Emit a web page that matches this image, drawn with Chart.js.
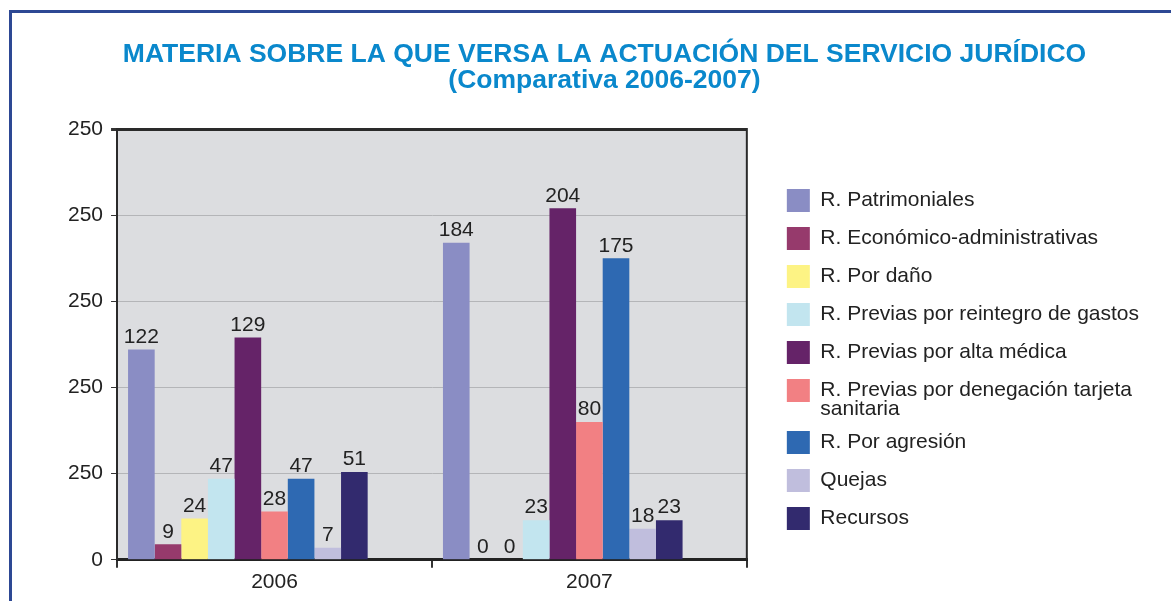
<!DOCTYPE html>
<html lang="es">
<head>
  <meta charset="UTF-8">
  <title>Materia sobre la que versa la actuación del Servicio Jurídico</title>
  <script src="https://cdn.jsdelivr.net/npm/chart.js"></script>
  <style>
    html, body { margin: 0; padding: 0; background: #fff; width: 1171px; height: 601px; overflow: hidden; }
    #frame { position: absolute; left: 9px; top: 10px; width: 1200px; height: 620px; border-top: 3px solid #2d4894; border-left: 3px solid #2d4894; }
    #wrap { position: absolute; left: 0; top: 0; width: 1171px; height: 601px; }
  </style>
</head>
<body>
  <div id="frame"></div>
  <div id="wrap"><canvas id="chart"></canvas></div>

  <script>
    const years = ['2006', '2007'];
    const series = [
      'R. Patrimoniales',
      'R. Económico-administrativas',
      'R. Por daño',
      'R. Previas por reintegro de gastos',
      'R. Previas por alta médica',
      ['R. Previas por denegación tarjeta', 'sanitaria'],
      'R. Por agresión',
      'Quejas',
      'Recursos'
    ];
    const colors = ['#8a8dc4', '#963a6c', '#fdf384', '#c2e5ef', '#652368', '#f28083', '#2e69b2', '#c0bedd', '#322a6e'];
    const values2006 = [122, 9, 24, 47, 129, 28, 47, 7, 51];
    const values2007 = [184, 0, 0, 23, 204, 80, 175, 18, 23];
    // the original axis shows "250" on every tick except 0
    const yTickLabels = ['0', '250', '250', '250', '250', '250'];
    const FONT = "'Liberation Sans', Arial, Helvetica, sans-serif";

    const datasets = series.map((name, i) => ({
      label: name,
      data: [values2006[i], values2007[i]],
      backgroundColor: colors[i],
      borderWidth: 0
    }));
    // two empty slots so the groups sit to the left, like the original
    for (let k = 0; k < 2; k++) datasets.push({ label: '', data: [null, null], backgroundColor: 'rgba(0,0,0,0)', spacer: true });

    const plotBg = {
      id: 'plotBg',
      beforeDraw(chart) {
        const a = chart.chartArea, ctx = chart.ctx;
        ctx.save();
        ctx.fillStyle = '#dcdde0';
        ctx.fillRect(a.left, a.top, a.right - a.left, a.bottom - a.top);
        ctx.restore();
      },
      afterDraw(chart) {
        const a = chart.chartArea, ctx = chart.ctx;
        ctx.save();
        ctx.strokeStyle = '#2a2a2a';
        ctx.lineWidth = 2;
        ctx.beginPath();
        ctx.moveTo(a.right, a.top - 1);
        ctx.lineTo(a.right, a.bottom);
        ctx.stroke();
        ctx.restore();
      }
    };

    const valueLabels = {
      id: 'valueLabels',
      afterDatasetsDraw(chart) {
        const ctx = chart.ctx;
        ctx.save();
        ctx.font = '21px ' + FONT;
        ctx.fillStyle = '#222';
        ctx.textAlign = 'center';
        ctx.textBaseline = 'bottom';
        chart.data.datasets.forEach((ds, i) => {
          if (ds.spacer) return;
          chart.getDatasetMeta(i).data.forEach((bar, j) => {
            ctx.fillText(String(ds.data[j]), bar.x, bar.y - 2);
          });
        });
        ctx.restore();
      }
    };

    new Chart(document.getElementById('chart'), {
      type: 'bar',
      data: { labels: years, datasets },
      options: {
        responsive: true,
        maintainAspectRatio: false,
        animation: false,
        barPercentage: 1,
        categoryPercentage: 0.93,
        layout: { padding: { left: 60, right: 22, top: 24, bottom: 4 } },
        plugins: {
          title: {
            display: true,
            text: ['MATERIA SOBRE LA QUE VERSA LA ACTUACIÓN DEL SERVICIO JURÍDICO', '(Comparativa 2006-2007)'],
            color: '#0a88cc',
            font: { family: FONT, size: 26.5, weight: 'bold', lineHeight: 1.0 },
            padding: { top: 17, bottom: 35 }
          },
          legend: {
            position: 'right',
            align: 'start',
            maxWidth: 420,
            title: { display: true, text: ' ', font: { size: 10, lineHeight: 1 }, padding: { top: 140, bottom: 0 } },
            labels: {
              boxWidth: 23,
              boxHeight: 23,
              padding: 15,
              color: '#222',
              font: { family: FONT, size: 21, lineHeight: 0.88 },
              filter: item => item.text !== ''
            }
          },
          tooltip: { enabled: false }
        },
        scales: {
          x: {
            grid: { drawOnChartArea: false, drawTicks: true, tickLength: 8, color: '#333', lineWidth: 2 },
            border: { color: '#222', width: 3 },
            ticks: { color: '#222', font: { family: FONT, size: 21 }, padding: 2 }
          },
          y: {
            min: 0,
            max: 250,
            ticks: {
              stepSize: 50,
              color: '#222',
              padding: 8,
              font: { family: FONT, size: 21 },
              callback: (v, i) => yTickLabels[i]
            },
            grid: {
              color: c => (c.tick && c.tick.value === 250 ? '#2a2a2a' : '#b4b5b8'),
              lineWidth: c => (c.tick && c.tick.value === 250 ? 3 : 1),
              tickColor: '#333',
              tickLength: 6
            },
            border: { color: '#2a2a2a', width: 2 }
          },
          // empty right-hand scale, only keeps the gap between plot and legend
          gap: {
            position: 'right',
            display: true,
            grid: { display: false },
            border: { display: false },
            ticks: { display: false },
            afterFit: s => { s.width = 25; }
          }
        }
      },
      plugins: [plotBg, valueLabels]
    });
  </script>
</body>
</html>
